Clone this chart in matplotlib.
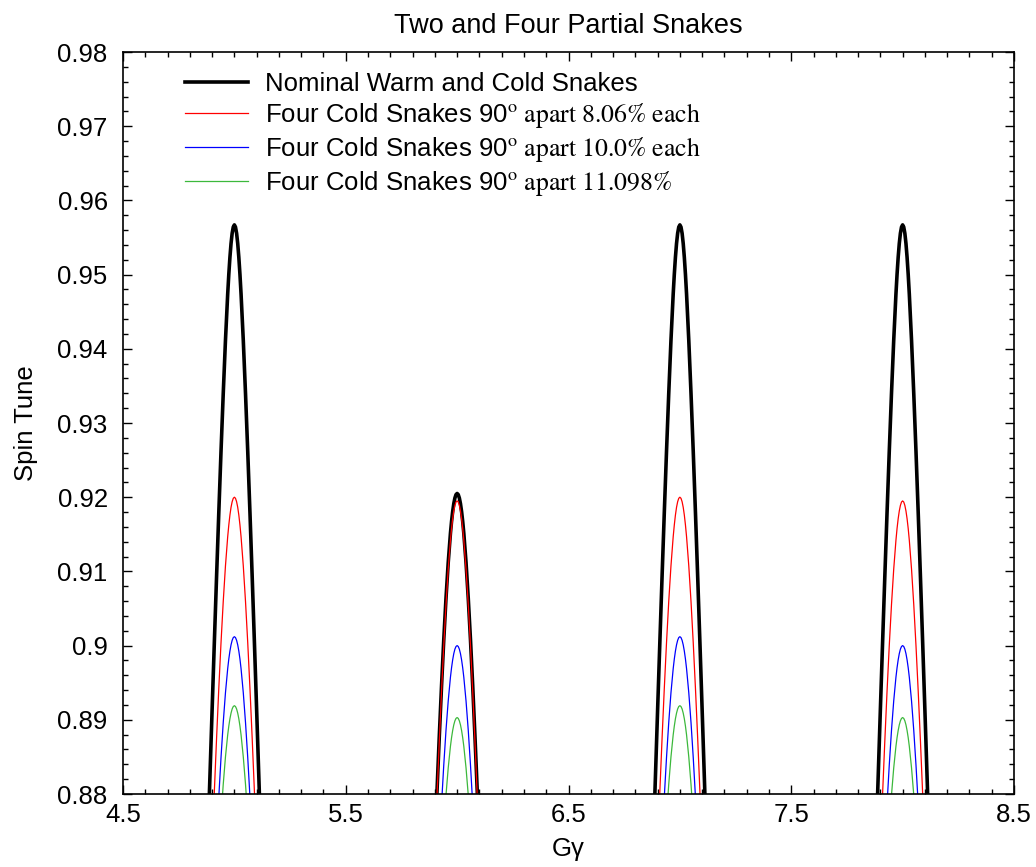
import numpy as np
import matplotlib
matplotlib.use("Agg")
import matplotlib.pyplot as plt
from matplotlib.ticker import MultipleLocator, FixedLocator

# ---------------- data ----------------
gg5 = [4.88, 4.89, 4.90, 4.91, 4.92, 4.93, 4.94, 4.95, 4.96, 4.97, 4.975, 4.98, 4.985, 4.99, 4.995, 5.0,
       5.005, 5.01, 5.015, 5.02, 5.025, 5.03, 5.04, 5.05, 5.06, 5.07, 5.08, 5.09, 5.10, 5.11, 5.12]
gg6 = [5.88, 5.89, 5.90, 5.91, 5.92, 5.93, 5.94, 5.95, 5.96, 5.97, 5.975, 5.98, 5.985, 5.99, 5.995, 6.0,
       6.005, 6.01, 6.015, 6.02, 6.025, 6.03, 6.04, 6.05, 6.06, 6.07, 6.08, 6.09, 6.10, 6.11, 6.12]
gg7 = [6.88, 6.89, 6.90, 6.91, 6.92, 6.93, 6.94, 6.95, 6.96, 6.97, 6.975, 6.98, 6.985, 6.99, 6.995, 7.0,
       7.005, 7.01, 7.015, 7.02, 7.025, 7.03, 7.04, 7.05, 7.06, 7.07, 7.08, 7.09, 7.10, 7.11, 7.12]
gg8 = [7.88, 7.89, 7.90, 7.91, 7.92, 7.93, 7.94, 7.95, 7.96, 7.97, 7.975, 7.98, 7.985, 7.99, 7.995, 8.0,
       8.005, 8.01, 8.015, 8.02, 8.025, 8.03, 8.04, 8.05, 8.06, 8.07, 8.08, 8.09, 8.10, 8.11, 8.12]

# Nominal warm and cold snakes (black)
nominal_5 = [0.87278, 0.88210, 0.89131, 0.90038, 0.90925, 0.91787, 0.92616, 0.93397, 0.94114, 0.94738, 0.95004,
             0.95233, 0.95419, 0.95557, 0.95641, 0.95670, 0.95641, 0.95557, 0.95419, 0.95233, 0.95004, 0.94738,
             0.94114, 0.93397, 0.92616, 0.91787, 0.90925, 0.90038, 0.89131, 0.88210, 0.87278]
nominal_6 = [0.85710, 0.86521, 0.87307, 0.88062, 0.88781, 0.89456, 0.90078, 0.90636, 0.91119, 0.91514, 0.91674,
             0.91807, 0.91913, 0.91989, 0.92035, 0.92050, 0.92035, 0.91989, 0.91913, 0.91807, 0.91674, 0.91514,
             0.91119, 0.90636, 0.90078, 0.89456, 0.88781, 0.88062, 0.87307, 0.86521, 0.85710]
nominal_7 = [0.87278, 0.88210, 0.89131, 0.90038, 0.90925, 0.91787, 0.92616, 0.93397, 0.94114, 0.94738, 0.95004,
             0.95233, 0.95419, 0.95557, 0.95641, 0.95670, 0.95641, 0.95557, 0.95419, 0.95233, 0.95004, 0.94738,
             0.94114, 0.93397, 0.92616, 0.91787, 0.90925, 0.90038, 0.89131, 0.88210, 0.87278]
nominal_8 = [0.87278, 0.88210, 0.89131, 0.90038, 0.90925, 0.91787, 0.92616, 0.93397, 0.94114, 0.94738, 0.95004,
             0.95233, 0.95419, 0.95557, 0.95641, 0.95670, 0.95641, 0.95557, 0.95419, 0.95233, 0.95004, 0.94738,
             0.94114, 0.93397, 0.92616, 0.91787, 0.90925, 0.90038, 0.89131, 0.88210, 0.87278]

# Four cold snakes 8.06% each (red)
s806_5 = [0.85683, 0.86493, 0.87276, 0.88029, 0.88746, 0.89419, 0.90038, 0.90594, 0.91075, 0.91467, 0.91626,
          0.91759, 0.91864, 0.91939, 0.91985, 0.92000, 0.91985, 0.91939, 0.91864, 0.91759, 0.91626, 0.91467,
          0.91075, 0.90594, 0.90038, 0.89419, 0.88746, 0.88029, 0.87276, 0.86493, 0.85683]
s806_6 = [0.85657, 0.86464, 0.87246, 0.87997, 0.88711, 0.89381, 0.89998, 0.90552, 0.91030, 0.91420, 0.91579,
          0.91710, 0.91814, 0.91889, 0.91935, 0.91950, 0.91935, 0.91889, 0.91814, 0.91710, 0.91579, 0.91420,
          0.91030, 0.90552, 0.89998, 0.89381, 0.88711, 0.87997, 0.87246, 0.86464, 0.85657]
s806_7 = [0.85683, 0.86493, 0.87276, 0.88029, 0.88746, 0.89419, 0.90038, 0.90594, 0.91075, 0.91467, 0.91626,
          0.91759, 0.91864, 0.91939, 0.91985, 0.92000, 0.91985, 0.91939, 0.91864, 0.91759, 0.91626, 0.91467,
          0.91075, 0.90594, 0.90038, 0.89419, 0.88746, 0.88029, 0.87276, 0.86493, 0.85683]
s806_8 = [0.85657, 0.86464, 0.87246, 0.87997, 0.88711, 0.89381, 0.89998, 0.90552, 0.91030, 0.91420, 0.91579,
          0.91710, 0.91814, 0.91889, 0.91935, 0.91950, 0.91935, 0.91889, 0.91814, 0.91710, 0.91579, 0.91420,
          0.91030, 0.90552, 0.89998, 0.89381, 0.88711, 0.87997, 0.87246, 0.86464, 0.85657]

# Four cold snakes 10.0% each (blue)
s100_5 = [0.84606, 0.85346, 0.86057, 0.86733, 0.87368, 0.87957, 0.88491, 0.88963, 0.89365, 0.89689, 0.89819,
          0.89926, 0.90010, 0.90071, 0.90108, 0.90120, 0.90108, 0.90071, 0.90010, 0.89926, 0.89819, 0.89689,
          0.89365, 0.88963, 0.88491, 0.87957, 0.87368, 0.86733, 0.86057, 0.85346, 0.84606]
s100_6 = [0.84532, 0.85268, 0.85975, 0.86646, 0.87276, 0.87860, 0.88389, 0.88857, 0.89254, 0.89574, 0.89702,
          0.89808, 0.89892, 0.89952, 0.89988, 0.90000, 0.89988, 0.89952, 0.89892, 0.89808, 0.89702, 0.89574,
          0.89254, 0.88857, 0.88389, 0.87860, 0.87276, 0.86646, 0.85975, 0.85268, 0.84532]
s100_7 = [0.84606, 0.85346, 0.86057, 0.86733, 0.87368, 0.87957, 0.88491, 0.88963, 0.89365, 0.89689, 0.89819,
          0.89926, 0.90010, 0.90071, 0.90108, 0.90120, 0.90108, 0.90071, 0.90010, 0.89926, 0.89819, 0.89689,
          0.89365, 0.88963, 0.88491, 0.87957, 0.87368, 0.86733, 0.86057, 0.85346, 0.84606]
s100_8 = [0.84532, 0.85268, 0.85975, 0.86646, 0.87276, 0.87860, 0.88389, 0.88857, 0.89254, 0.89574, 0.89702,
          0.89808, 0.89892, 0.89952, 0.89988, 0.90000, 0.89988, 0.89952, 0.89892, 0.89808, 0.89702, 0.89574,
          0.89254, 0.88857, 0.88389, 0.87860, 0.87276, 0.86646, 0.85975, 0.85268, 0.84532]

# Four cold snakes 11.098% (green)
s11098_5 = [0.84021, 0.84729, 0.85405, 0.86045, 0.86644, 0.87195, 0.87693, 0.88130, 0.88500, 0.88797, 0.88916,
            0.89014, 0.89090, 0.89146, 0.89179, 0.89190, 0.89179, 0.89146, 0.89090, 0.89014, 0.88916, 0.88797,
            0.88500, 0.88130, 0.87693, 0.87195, 0.86644, 0.86045, 0.85405, 0.84729, 0.84021]
s11098_6 = [0.83918, 0.84620, 0.85290, 0.85924, 0.86516, 0.87062, 0.87554, 0.87985, 0.88351, 0.88643, 0.88760,
            0.88856, 0.88932, 0.88986, 0.89019, 0.89030, 0.89019, 0.88986, 0.88932, 0.88856, 0.88760, 0.88643,
            0.88351, 0.87985, 0.87554, 0.87062, 0.86516, 0.85924, 0.85290, 0.84620, 0.83918]
s11098_7 = [0.84021, 0.84729, 0.85405, 0.86045, 0.86644, 0.87195, 0.87693, 0.88130, 0.88500, 0.88797, 0.88916,
            0.89014, 0.89090, 0.89146, 0.89179, 0.89190, 0.89179, 0.89146, 0.89090, 0.89014, 0.88916, 0.88797,
            0.88500, 0.88130, 0.87693, 0.87195, 0.86644, 0.86045, 0.85405, 0.84729, 0.84021]
s11098_8 = [0.83918, 0.84620, 0.85290, 0.85924, 0.86516, 0.87062, 0.87554, 0.87985, 0.88351, 0.88643, 0.88760,
            0.88856, 0.88932, 0.88986, 0.89019, 0.89030, 0.89019, 0.88986, 0.88932, 0.88856, 0.88760, 0.88643,
            0.88351, 0.87985, 0.87554, 0.87062, 0.86516, 0.85924, 0.85290, 0.84620, 0.83918]

labels = [
    "Nominal Warm and Cold Snakes",
    r"Four Cold Snakes 90$^{\mathrm{o}}$$\mathrm{\ apart\ 8.06\%\ each}$",
    r"Four Cold Snakes 90$^{\mathrm{o}}$$\mathrm{\ apart\ 10.0\%\ each}$",
    r"Four Cold Snakes 90$^{\mathrm{o}}$$\mathrm{\ apart\ 11.098\%}$",
]
xtick_vals = [4.5, 5.5, 6.5, 7.5, 8.5]
xtick_labels = ["4.5", "5.5", "6.5", "7.5", "8.5"]
ytick_vals = [0.88, 0.89, 0.90, 0.91, 0.92, 0.93, 0.94, 0.95, 0.96, 0.97, 0.98]
ytick_labels = ["0.88", "0.89", "0.9", "0.91", "0.92", "0.93", "0.94", "0.95", "0.96", "0.97", "0.98"]

# ---------------- plotting ----------------
plt.rcParams['font.family'] = ['Liberation Sans', 'DejaVu Sans']
plt.rcParams['mathtext.fontset'] = 'stix'

fig = plt.figure(figsize=(10.36, 8.67), dpi=100)
ax = fig.add_axes([123/1036, 1 - 794/867, (1014 - 123)/1036, (794 - 52)/867])

grids = [gg5, gg6, gg7, gg8]
series = [
    ([nominal_5, nominal_6, nominal_7, nominal_8], 'black', 2.6),
    ([s806_5, s806_6, s806_7, s806_8], '#ff0000', 0.9),
    ([s100_5, s100_6, s100_7, s100_8], '#0000ff', 0.9),
    ([s11098_5, s11098_6, s11098_7, s11098_8], '#3cb83c', 0.9),
]
handles = []
for (ys, color, lw) in series:
    for gx, gy in zip(grids, ys):
        ln, = ax.plot(gx, gy, color=color, lw=lw, solid_joinstyle='round')
    handles.append(ln)

ax.set_xlim(4.5, 8.5)
ax.set_ylim(0.88, 0.98)
ax.xaxis.set_major_locator(FixedLocator(xtick_vals))
ax.set_xticklabels(xtick_labels)
ax.yaxis.set_major_locator(FixedLocator(ytick_vals))
ax.set_yticklabels(ytick_labels)
ax.xaxis.set_minor_locator(MultipleLocator(0.1))
ax.yaxis.set_minor_locator(MultipleLocator(0.002))
ax.tick_params(which='both', direction='in', top=True, right=True, width=1.0, labelsize=18.5)
ax.tick_params(which='major', length=6.5)
ax.tick_params(which='minor', length=3.5)
ax.tick_params(axis='y', pad=11)
ax.tick_params(axis='x', pad=6.5)
for sp in ax.spines.values():
    sp.set_linewidth(1.2)

ax.set_title("Two and Four Partial Snakes", fontsize=19.5, pad=14)
ax.set_xlabel("Gγ", fontsize=18.5, labelpad=7)
ax.set_ylabel("Spin Tune", fontsize=18.5, labelpad=14)

leg = ax.legend(handles, labels, loc='upper left', frameon=False, fontsize=18.5,
                bbox_to_anchor=(185/1036, 1 - 72/867), bbox_transform=fig.transFigure,
                borderpad=0, borderaxespad=0, handlelength=2.45, handletextpad=0.65,
                labelspacing=0.2)

fig.savefig("out.png", dpi=100)
